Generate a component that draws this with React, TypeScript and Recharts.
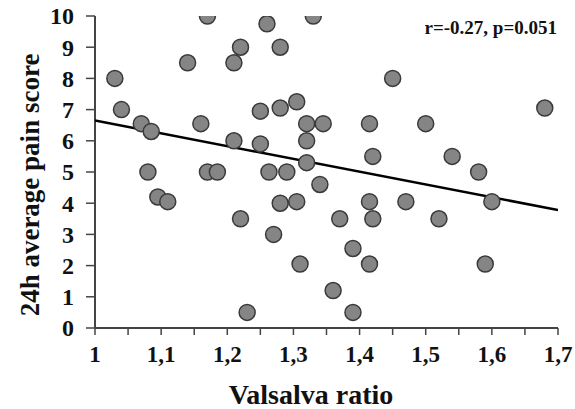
import React from 'react';
import { ScatterChart, Scatter, XAxis, YAxis, Customized } from 'recharts';

const valsalvaRatio = [
  1.03, 1.04, 1.07, 1.085, 1.08, 1.095, 1.11, 1.14, 1.16, 1.17,
  1.17, 1.185, 1.21, 1.21, 1.22, 1.22, 1.23, 1.25, 1.25, 1.26,
  1.263, 1.27, 1.28, 1.28, 1.29, 1.28, 1.305, 1.305, 1.31, 1.32,
  1.32, 1.32, 1.33, 1.345, 1.34, 1.36, 1.37, 1.39, 1.39, 1.415,
  1.42, 1.415, 1.42, 1.415, 1.45, 1.47, 1.5, 1.52, 1.54, 1.58,
  1.59, 1.6, 1.68,
];
const painScore = [
  8, 7, 6.55, 6.3, 5, 4.2, 4.05, 8.5, 6.55, 10,
  5, 5, 8.5, 6, 9, 3.5, 0.5, 6.95, 5.9, 9.75,
  5, 3, 9, 7.05, 5, 4, 7.25, 4.05, 2.05, 6.55,
  6, 5.3, 10, 6.55, 4.6, 1.2, 3.5, 2.55, 0.5, 6.55,
  5.5, 4.05, 3.5, 2.05, 8, 4.05, 6.55, 3.5, 5.5, 5,
  2.05, 4.05, 7.05,
];
const fitX = [1, 1.7];
const fitY = [6.65, 3.78];

const xTicks = [1, 1.05, 1.1, 1.15, 1.2, 1.25, 1.3, 1.35, 1.4, 1.45, 1.5, 1.55, 1.6, 1.65, 1.7];
const xTickLabels = ['1', '', '1,1', '', '1,2', '', '1,3', '', '1,4', '', '1,5', '', '1,6', '', '1,7'];
const yTicks = [0, 1, 2, 3, 4, 5, 6, 7, 8, 9, 10];

const xTitle = 'Valsalva ratio';
const yTitle = '24h average pain score';
const statText = 'r=-0.27, p=0.051';

const points = valsalvaRatio.map((x, i) => ({ x, y: painScore[i] }));
const fitLine = fitX.map((x, i) => ({ x, y: fitY[i] }));

const FONT = "'Liberation Serif', 'Times New Roman', Times, 'DejaVu Serif', serif";
const txt = (size: number): React.CSSProperties => ({
  fontFamily: FONT,
  fontWeight: 700,
  fontSize: size,
  fill: '#111',
});

const XTick = (props: any) => {
  const { x, y, payload, index } = props;
  const idx = xTicks.findIndex((t) => Math.abs(t - payload.value) < 1e-9);
  const label = xTickLabels[idx >= 0 ? idx : index] || '';
  if (!label) return <g />;
  return (
    <text x={x} y={y + 25} textAnchor="middle" style={txt(23)}>
      {label}
    </text>
  );
};

const YTick = (props: any) => {
  const { x, y, payload } = props;
  return (
    <text x={x} y={y} dy="0.35em" textAnchor="end" style={txt(24)}>
      {String(payload.value)}
    </text>
  );
};

const Dot = (props: any) => {
  const { cx, cy } = props;
  return <circle cx={cx} cy={cy} r={8} fill="#858585" stroke="#3a3a3a" strokeWidth={1.5} />;
};

const NoDot = () => <g />;

const Extras = () => (
  <g>
    <text x={311} y={404} textAnchor="middle" style={txt(28)}>
      {xTitle}
    </text>
    <text
      x={30}
      y={185}
      transform="rotate(-90 30 185)"
      textAnchor="middle"
      dominantBaseline="central"
      style={txt(27)}
    >
      {yTitle}
    </text>
    <text x={557} y={34} textAnchor="end" style={txt(19)}>
      {statText}
    </text>
  </g>
);

export default function App() {
  return (
    <div style={{ position: 'absolute', left: 0, top: 0, width: 575, height: 409, background: '#fff' }}>
      <ScatterChart width={575} height={409} margin={{ top: 16, right: 17, bottom: 0, left: 0 }}>
        <XAxis
          type="number"
          dataKey="x"
          domain={[1, 1.7]}
          ticks={xTicks}
          interval={0}
          allowDataOverflow
          height={81}
          tickSize={7}
          tickMargin={2}
          tick={<XTick />}
          axisLine={{ stroke: '#444', strokeWidth: 2 }}
          tickLine={{ stroke: '#444', strokeWidth: 1.5 }}
        />
        <YAxis
          type="number"
          dataKey="y"
          domain={[0, 10]}
          ticks={yTicks}
          interval={0}
          allowDataOverflow
          width={95}
          tickSize={9}
          tickMargin={12}
          tick={<YTick />}
          axisLine={{ stroke: '#444', strokeWidth: 2 }}
          tickLine={{ stroke: '#444', strokeWidth: 1.5 }}
        />
        <Scatter
          data={fitLine}
          line={{ stroke: '#000', strokeWidth: 2.5 }}
          shape={<NoDot />}
          isAnimationActive={false}
        />
        <Scatter data={points} shape={<Dot />} isAnimationActive={false} />
        <Customized component={Extras} />
      </ScatterChart>
    </div>
  );
}
